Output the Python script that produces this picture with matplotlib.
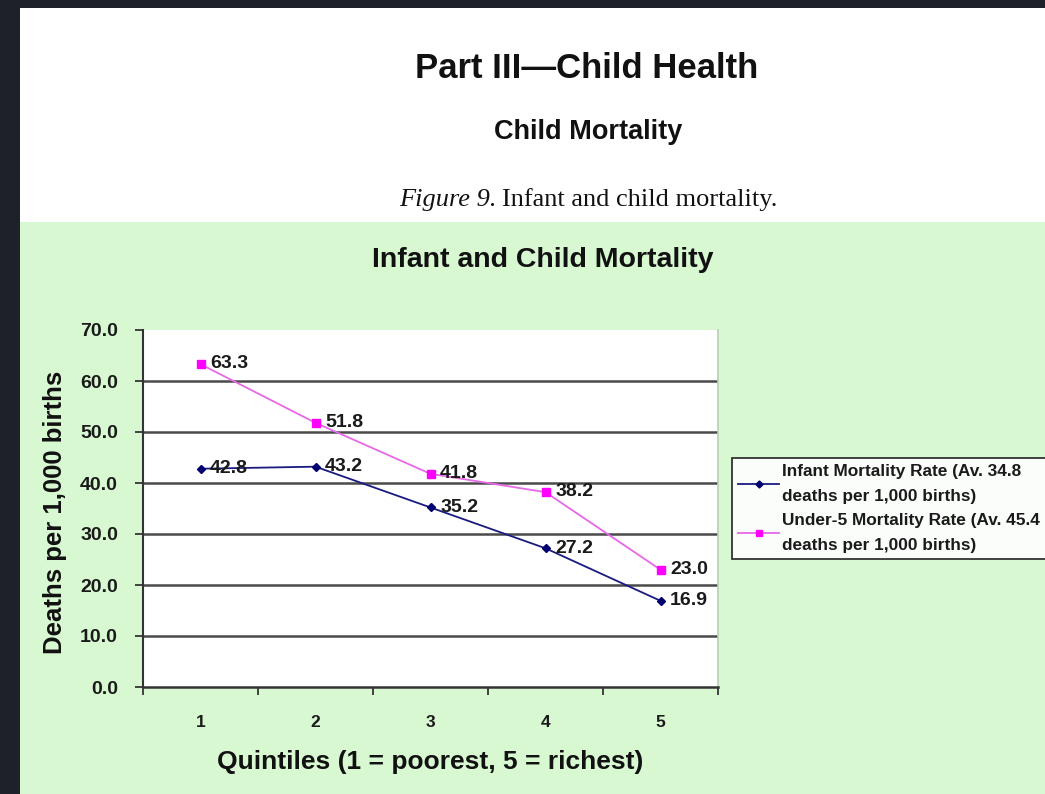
import matplotlib
matplotlib.use("Agg")
import matplotlib.pyplot as plt
from matplotlib.patches import Rectangle

quintiles = [1, 2, 3, 4, 5]
infant = [42.8, 43.2, 35.2, 27.2, 16.9]
under5 = [63.3, 51.8, 41.8, 38.2, 23.0]
infant_label = "Infant Mortality Rate (Av. 34.8\ndeaths per 1,000 births)"
under5_label = "Under-5 Mortality Rate (Av. 45.4\ndeaths per 1,000 births)"
yticks = [0, 10, 20, 30, 40, 50, 60, 70]

W, H = 1045, 794
SANS = ["Liberation Sans", "DejaVu Sans"]
SERIF = ["Liberation Serif", "DejaVu Serif"]
GREEN = "#d8f8d2"
DARK = "#1f2129"

fig = plt.figure(figsize=(W / 100, H / 100), dpi=100)
fig.patch.set_facecolor(DARK)

def fx(px):
    return px / W

def fy(py):
    return 1 - py / H

# white page and green chart area
fig.patches.append(Rectangle((fx(20), fy(222)), 1 - fx(20), fy(8) - fy(222),
                             transform=fig.transFigure, facecolor="white",
                             edgecolor="none", zorder=-2))
fig.patches.append(Rectangle((fx(20), 0), 1 - fx(20), fy(222),
                             transform=fig.transFigure, facecolor=GREEN,
                             edgecolor="none", zorder=-2))

fig.text(fx(587), fy(69), "Part III\u2014Child Health", family=SANS, weight="bold",
         fontsize=25, ha="center", va="center", color="#111111")
fig.text(fx(588), fy(132), "Child Mortality", family=SANS, weight="bold",
         fontsize=19.5, ha="center", va="center", color="#111111")
fig.text(fx(497), fy(200), "Figure 9.", family=SERIF, style="italic",
         fontsize=19, ha="right", va="center", color="#111111")
fig.text(fx(502), fy(200), "Infant and child mortality.", family=SERIF,
         fontsize=19, ha="left", va="center", color="#111111")

fig.text(fx(543), fy(260), "Infant and Child Mortality", family=SANS, weight="bold",
         fontsize=20.5, ha="center", va="center", color="#111111")

ax = fig.add_axes([fx(143), fy(687), fx(718) - fx(143), fy(330) - fy(687)])
ax.set_facecolor("white")
ax.set_xlim(0.5, 5.5)
ax.set_ylim(0, 70)

ax.plot(quintiles, infant, color="#1a1a80", lw=1.3, marker="D", ms=4.2,
        mfc="#000070", mec="#000070", label=infant_label, zorder=3)
ax.plot(quintiles, under5, color="#e868e8", lw=1.3, marker="s", ms=5.2,
        mfc="#ff00ff", mec="#ff00ff", label=under5_label, zorder=3)

for x, v in zip(quintiles, infant):
    ax.annotate(f"{v:.1f}", (x, v), xytext=(7, 0), textcoords="offset points",
                ha="left", va="center", family=SANS, weight="bold", fontsize=14,
                color="#1a1a1a", zorder=4)
for x, v in zip(quintiles, under5):
    ax.annotate(f"{v:.1f}", (x, v), xytext=(7, 0.5), textcoords="offset points",
                ha="left", va="center", family=SANS, weight="bold", fontsize=14,
                color="#1a1a1a", zorder=4)

for g in yticks[1:-1]:
    ax.axhline(g, color="#4a4a4a", lw=1.8, zorder=1)

ax.set_yticks(yticks)
ax.set_yticklabels([f"{v:.1f}" for v in yticks], family=SANS, weight="bold",
                   fontsize=14, color="#1a1a1a")
ax.set_xticks([q - 0.5 for q in quintiles] + [5.5])
ax.set_xticklabels([])
ax.set_xticks(quintiles, minor=True)
ax.set_xticklabels([str(q) for q in quintiles], minor=True, family=SANS,
                   weight="bold", fontsize=12.5, color="#1a1a1a")
ax.tick_params(axis="x", which="minor", length=0, pad=20)
ax.tick_params(axis="x", which="major", length=6, width=1.3, color="#333333",
               direction="out")
ax.tick_params(axis="y", length=6, width=1.3, color="#333333", direction="out",
               pad=12)

ax.spines["top"].set_visible(False)
ax.spines["right"].set_color("#b8d0b0")
ax.spines["right"].set_linewidth(1.2)
ax.spines["left"].set_color("#333333")
ax.spines["left"].set_linewidth(1.5)
ax.spines["bottom"].set_color("#333333")
ax.spines["bottom"].set_linewidth(1.8)

fig.text(fx(55), fy(512), "Deaths per 1,000 births", family=SANS, weight="bold",
         fontsize=18.5, rotation=90, ha="center", va="center", color="#111111")
fig.text(fx(430), fy(762), "Quintiles (1 = poorest, 5 = richest)", family=SANS,
         weight="bold", fontsize=19, ha="center", va="center", color="#111111")

leg = ax.legend(loc="upper left", bbox_to_anchor=(fx(732), fy(458)),
                bbox_transform=fig.transFigure,
                prop={"family": SANS, "weight": "bold", "size": 12.4},
                frameon=True, fancybox=False, facecolor="#fbfdfb", edgecolor="#333333",
                framealpha=1, handlelength=2.4, handletextpad=0.15,
                labelspacing=0.5, borderpad=0.35, borderaxespad=0, markerscale=0.85)
leg.get_frame().set_linewidth(1.3)
for t in leg.get_texts():
    t.set_color("#1a1a1a")
    t.set_linespacing(1.85)

fig.savefig("out.png", dpi=100, facecolor=fig.get_facecolor())
